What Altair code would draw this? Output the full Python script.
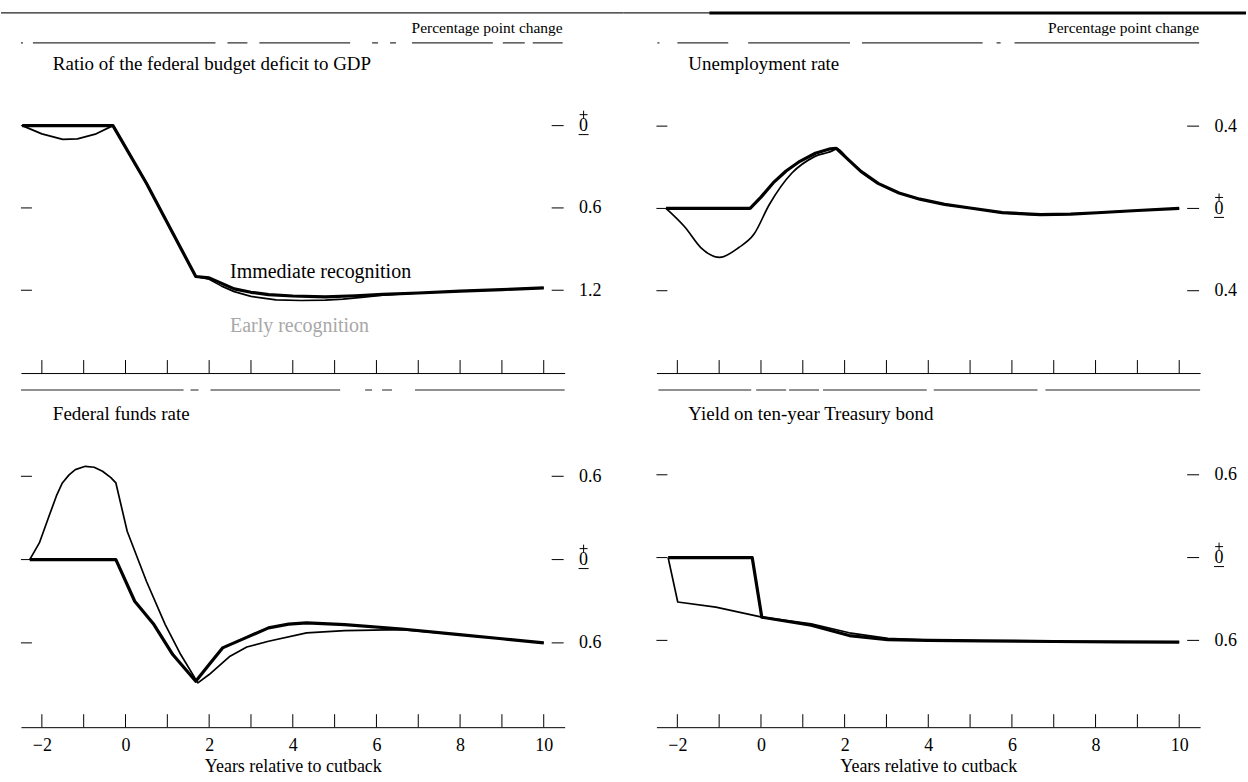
import altair as alt
import pandas as pd

FONT = "Liberation Serif"

# ---------------- data ----------------
# Ratio of the federal budget deficit to GDP
deficit_imm_years = [-2.47, -0.3, 0.5, 1.68, 2.0, 2.3, 2.6, 3.0, 3.42, 4.0, 4.78, 5.5, 6.15, 7.0, 8.0, 9.0, 10.0]
deficit_imm = [0, 0, -0.42, -1.10, -1.11, -1.15, -1.19, -1.215, -1.232, -1.242, -1.248, -1.24, -1.23, -1.22, -1.207, -1.195, -1.183]
deficit_early_years = [-2.47, -2.0, -1.5, -1.15, -0.7, -0.3, 0.5, 1.68, 2.0, 2.3, 2.6, 3.0, 3.6, 4.2, 4.78, 5.2, 5.7, 6.15, 7.0, 8.0, 9.0, 10.0]
deficit_early = [0, -0.06, -0.10, -0.097, -0.06, 0, -0.42, -1.10, -1.12, -1.17, -1.21, -1.245, -1.27, -1.275, -1.272, -1.265, -1.25, -1.235, -1.22, -1.207, -1.195, -1.183]

# Unemployment rate
unemp_imm_years = [-2.27, -0.26, 0.0, 0.29, 0.6, 0.93, 1.3, 1.66, 1.8, 2.1, 2.39, 2.8, 3.3, 3.8, 4.39, 5.0, 5.77, 6.68, 7.4, 8.04, 9.0, 10.0]
unemp_imm = [0, 0, 0.055, 0.124, 0.182, 0.229, 0.268, 0.29, 0.292, 0.235, 0.18, 0.122, 0.075, 0.045, 0.02, 0.002, -0.02, -0.03, -0.028, -0.021, -0.01, 0.0]
unemp_early_years = [-2.27, -1.81, -1.44, -0.99, -0.53, -0.17, 0.2, 0.74, 1.29, 1.75, 1.8, 2.1, 2.39, 2.8, 3.3, 3.8, 4.39, 5.0, 5.77, 6.68, 7.4, 8.04, 9.0, 10.0]
unemp_early = [0, -0.093, -0.19, -0.238, -0.19, -0.126, 0.019, 0.172, 0.253, 0.285, 0.292, 0.235, 0.18, 0.122, 0.075, 0.045, 0.02, 0.002, -0.02, -0.03, -0.028, -0.021, -0.01, 0.0]

# Federal funds rate
ffr_imm_years = [-2.29, -0.23, 0.22, 0.68, 1.13, 1.68, 2.0, 2.32, 2.87, 3.42, 3.9, 4.33, 5.24, 6.61, 7.98, 9.0, 10.0]
ffr_imm = [0, 0, -0.3, -0.468, -0.684, -0.876, -0.756, -0.636, -0.564, -0.492, -0.465, -0.456, -0.468, -0.50, -0.54, -0.57, -0.6]
ffr_early_years = [-2.29, -2.06, -1.83, -1.65, -1.51, -1.35, -1.2, -0.96, -0.75, -0.55, -0.35, -0.23, 0.04, 0.5, 0.95, 1.32, 1.73, 2.0, 2.5, 2.9, 3.42, 4.33, 5.24, 6.61, 7.98, 9.0, 10.0]
ffr_early = [0, 0.12, 0.312, 0.46, 0.552, 0.61, 0.648, 0.672, 0.665, 0.636, 0.59, 0.552, 0.204, -0.156, -0.468, -0.684, -0.888, -0.828, -0.696, -0.63, -0.588, -0.528, -0.511, -0.505, -0.54, -0.57, -0.6]

# Yield on ten-year Treasury bond
bond_imm_years = [-2.22, -0.21, 0.02, 1.2, 2.11, 3.03, 4.0, 5.31, 7.0, 8.5, 10.0]
bond_imm = [0, 0, -0.432, -0.49, -0.565, -0.594, -0.60, -0.604, -0.608, -0.611, -0.613]
bond_early_years = [-2.22, -1.99, -1.08, 0.02, 1.2, 2.11, 3.03, 4.0, 5.31, 7.0, 8.5, 10.0]
bond_early = [0, -0.322, -0.359, -0.432, -0.48, -0.545, -0.585, -0.598, -0.604, -0.608, -0.611, -0.613]

# axis ticks / labels
deficit_ticks = [0, -0.6, -1.2]
unemp_ticks = [0.4, 0, -0.4]
ffr_ticks = [0.6, 0, -0.6]
bond_ticks = [0.6, 0, -0.6]
x_tick_years = list(range(-2, 11))
x_label_years = [-2, 0, 2, 4, 6, 8, 10]

# ---------------- layout ----------------
W = 545
H_TOP = 361
H_BOT = 338
LABEL_EXPR = "datum.value == 0 ? '0' : format(abs(datum.value), '.1f')"


def one(**kw):
    return pd.DataFrame({k: [v] for k, v in kw.items()})


def rule(x1, x2, y, width=1.0, color="black", dash=None):
    kw = dict(color=color, strokeWidth=width)
    if dash:
        kw["strokeDash"] = dash
    return alt.Chart(one(a=0)).mark_rule(**kw).encode(
        x=alt.value(x1), x2=alt.value(x2), y=alt.value(y))


def label(txt, x, y, size, align="left", color="black"):
    return alt.Chart(one(t=txt)).mark_text(
        align=align, baseline="middle", font=FONT, fontSize=size, color=color
    ).encode(x=alt.value(x), y=alt.value(y), text="t:N")


def panel(imm_x, imm_y, early_x, early_y, ydomain, yticks, height, title,
          bottom, extra_layers, early_interp="linear"):
    if bottom:
        xaxis = alt.Axis(values=x_label_years, ticks=False, domain=True,
                         domainColor="black", domainWidth=1, grid=False,
                         labelPadding=9, labelFontSize=18, labelFont=FONT,
                         labelColor="black", labelFlush=False,
                         title="Years relative to cutback", titleFontSize=18,
                         titleFont=FONT, titleFontWeight="normal",
                         titleColor="black", titlePadding=3)
    else:
        xaxis = alt.Axis(labels=False, ticks=False, domain=True,
                         domainColor="black", domainWidth=1, grid=False,
                         title=None)
    yaxis = alt.Axis(orient="right", values=yticks, labelExpr=LABEL_EXPR,
                     ticks=False, domain=False, grid=False, labelPadding=14,
                     labelFontSize=18, labelFont=FONT, labelColor="black",
                     labelFlush=False, labelOverlap=False, title=None)
    xe = alt.X("year:Q", scale=alt.Scale(domain=[-2.5, 10.5], nice=False, zero=False), axis=xaxis)
    ye = alt.Y("value:Q", scale=alt.Scale(domain=ydomain, nice=False, zero=False), axis=yaxis)

    df_imm = pd.DataFrame({"year": imm_x, "value": imm_y})
    df_early = pd.DataFrame({"year": early_x, "value": early_y})

    thick = alt.Chart(df_imm).mark_line(color="black", strokeWidth=3.2,
                                        strokeJoin="round").encode(x=xe, y=ye)
    thin = alt.Chart(df_early).mark_line(color="black", strokeWidth=1.7,
                                         strokeJoin="round",
                                         interpolate=early_interp).encode(x=xe, y=ye)

    ytdf = pd.DataFrame({"value": yticks})
    lt = alt.Chart(ytdf).mark_rule(color="black", strokeWidth=1).encode(
        y=ye, x=alt.value(0), x2=alt.value(11))
    rt = alt.Chart(ytdf).mark_rule(color="black", strokeWidth=1).encode(
        y=ye, x=alt.value(W - 13), x2=alt.value(W - 1))

    xtdf = pd.DataFrame({"year": x_tick_years})
    xt = alt.Chart(xtdf).mark_rule(color="black", strokeWidth=1).encode(
        x=xe, y=alt.value(height), y2=alt.value(height - 13))

    # the "+ over 0 over -" sign of the zero label, drawn as small strokes
    zdf = pd.DataFrame({"value": [0.0]})
    plus_h = alt.Chart(zdf).mark_rule(color="black", strokeWidth=1, yOffset=-11).encode(
        y=ye, x=alt.value(W + 15), x2=alt.value(W + 23))
    plus_v = alt.Chart(zdf).mark_rule(color="black", strokeWidth=1, yOffset=-15,
                                      y2Offset=-7).encode(
        y=ye, y2=alt.Y2("value"), x=alt.value(W + 19))
    under = alt.Chart(zdf).mark_rule(color="black", strokeWidth=1, yOffset=9).encode(
        y=ye, x=alt.value(W + 14), x2=alt.value(W + 24))

    ttl = label(title, 32, 51 if not bottom else 24, 19)

    layers = [xt, lt, rt, thin, thick, plus_h, plus_v, under, ttl] + extra_layers(xe, ye)
    return alt.layer(*layers).properties(width=W, height=height)


def tl_extra(xe, ye):
    ann = pd.DataFrame({"year": [2.5, 2.5], "value": [-1.07, -1.46],
                        "t": ["Immediate recognition", "Early recognition"],
                        "c": ["black", "#a8a8a8"]})
    txt = alt.Chart(ann).mark_text(align="left", baseline="middle", font=FONT,
                                   fontSize=20).encode(
        x=xe, y=ye, text="t:N", color=alt.Color("c:N", scale=None))
    return [
        rule(-20, W + 59, 0, 1.3, "#222"),
        label("Percentage point change", W - 2, 15, 15.5, align="right"),
        rule(0, W - 2, 30, 1.1, "#333",
             [2, 10, 183, 12, 20, 12, 91, 22, 6, 12, 6, 16, 81, 10, 22, 8, 30]),
        txt,
    ]


def tr_extra(xe, ye):
    return [
        rule(-33, 53, 0, 1.3, "#222"),
        rule(53, W + 46, 0, 3.0, "black"),
        label("Percentage point change", W - 1, 15, 15.5, align="right"),
        rule(1, W - 1, 30, 1.1, "#333",
             [2, 18, 51, 20, 102, 12, 121, 14, 4, 14, 185]),
    ]


def bl_extra(xe, ye):
    return [rule(0, W, 0, 1.2, "#222",
                 [163, 7, 8, 12, 130, 25, 7, 10, 10, 23, 150])]


def br_extra(xe, ye):
    return [rule(2, W, 0, 1.2, "#222",
                 [93, 5, 30, 3, 30, 4, 104, 7, 104, 8, 159])]


tl = panel(deficit_imm_years, deficit_imm, deficit_early_years, deficit_early,
           [-1.8036, 0.8218], deficit_ticks, H_TOP,
           "Ratio of the federal budget deficit to GDP", False, tl_extra)
tr = panel(unemp_imm_years, unemp_imm, unemp_early_years, unemp_early,
           [-0.8, 0.9503], unemp_ticks, H_TOP, "Unemployment rate", False, tr_extra,
           early_interp="monotone")
bl = panel(ffr_imm_years, ffr_imm, ffr_early_years, ffr_early,
           [-1.2072, 1.2216], ffr_ticks, H_BOT, "Federal funds rate", True, bl_extra)
br = panel(bond_imm_years, bond_imm, bond_early_years, bond_early,
           [-1.229, 1.2145], bond_ticks, H_BOT, "Yield on ten-year Treasury bond",
           True, br_extra)

chart = alt.concat(
    tl, tr, bl, br, columns=2, bounds="flush", align="each",
    spacing={"row": 17, "column": 92},
).properties(
    padding={"left": 0, "top": 10, "right": 0, "bottom": 0},
    background="white",
).configure_view(strokeWidth=0)

chart.save("out.html", embed_options={"renderer": "svg", "actions": False})
